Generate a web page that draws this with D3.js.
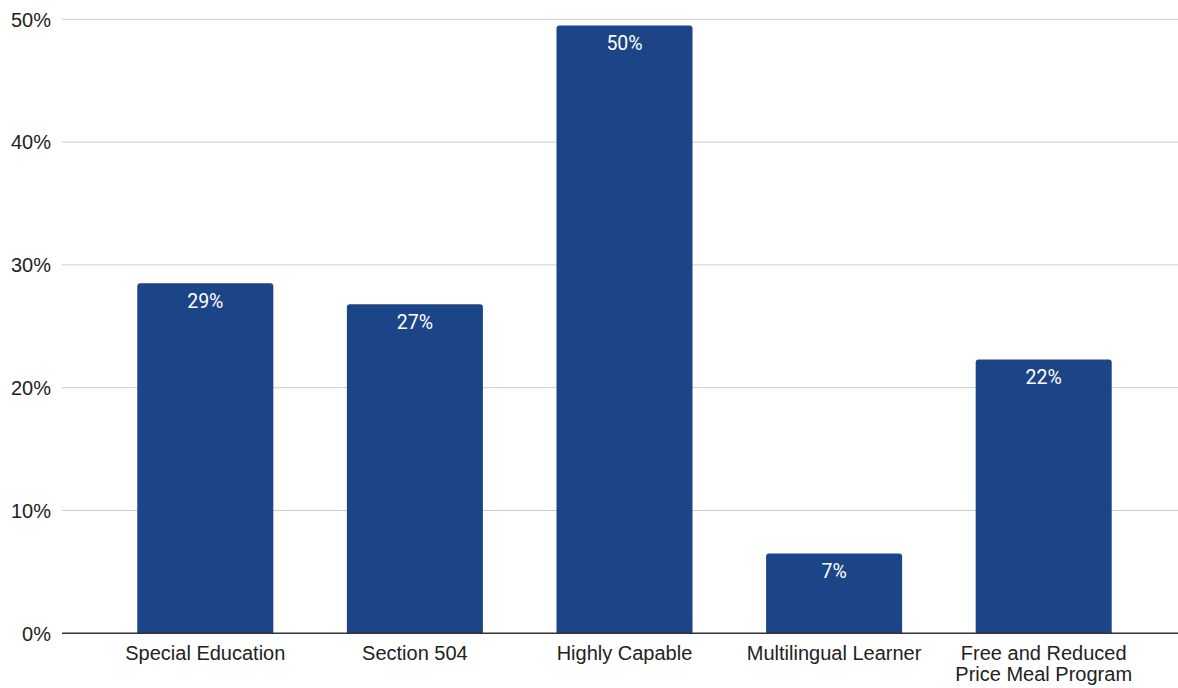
<!DOCTYPE html>
<html>
<head>
<meta charset="utf-8">
<script src="https://cdn.jsdelivr.net/npm/d3@7"></script>
<style>
  html, body { margin: 0; padding: 0; background: #fff; }
  svg { display: block; }
</style>
</head>
<body>
<svg id="chart" width="1178" height="688"></svg>
<script>
// Data
const categories = [
  ["Special Education"],
  ["Section 504"],
  ["Highly Capable"],
  ["Multilingual Learner"],
  ["Free and Reduced", "Price Meal Program"]
];
const values = [28.5, 26.8, 49.5, 6.5, 22.3];
const valueLabels = ["29%", "27%", "50%", "7%", "22%"];
const yTicks = [0, 10, 20, 30, 40, 50];

const svg = d3.select("#chart");
const plotLeft = 62, plotRight = 1178, plotTop = 19.3, plotBottom = 633.3;

const x = d3.scaleBand()
  .domain(d3.range(categories.length))
  .range([100.5, 1148.5])
  .paddingInner(0.351)
  .paddingOuter(0.1755);

const y = d3.scaleLinear().domain([0, 50]).range([plotBottom, plotTop]);

// gridlines
svg.append("g").selectAll("line")
  .data(yTicks.filter(d => d > 0))
  .join("line")
  .attr("x1", plotLeft).attr("x2", plotRight)
  .attr("y1", d => y(d)).attr("y2", d => y(d))
  .attr("stroke", "#cccccc").attr("stroke-width", 1);

// y tick labels
svg.append("g").selectAll("text")
  .data(yTicks)
  .join("text")
  .attr("x", 51)
  .attr("y", d => y(d))
  .attr("dy", "0.36em")
  .attr("text-anchor", "end")
  .attr("font-family", "Liberation Sans, Arial, sans-serif")
  .attr("font-size", 20)
  .attr("fill", "#222")
  .text(d => d + "%");

// bars with rounded top corners
const r = 3;
function barPath(i) {
  const x0 = x(i), w = x.bandwidth(), y0 = y(values[i]), yb = y(0);
  return `M${x0},${yb} V${y0 + r} Q${x0},${y0} ${x0 + r},${y0} H${x0 + w - r} Q${x0 + w},${y0} ${x0 + w},${y0 + r} V${yb} Z`;
}
svg.append("g").selectAll("path")
  .data(values.map((v, i) => i))
  .join("path")
  .attr("d", i => barPath(i))
  .attr("fill", "#1c4587");

// value labels
svg.append("g").selectAll("text")
  .data(values.map((v, i) => i))
  .join("text")
  .attr("x", i => x(i) + x.bandwidth() / 2)
  .attr("y", i => y(values[i]) + 24.5)
  .attr("text-anchor", "middle")
  .attr("font-family", "Roboto, Liberation Sans, sans-serif")
  .attr("font-size", 19.5)
  .attr("fill", "#ffffff")
  .text(i => valueLabels[i]);

// x axis line
svg.append("line")
  .attr("x1", plotLeft).attr("x2", plotRight)
  .attr("y1", plotBottom).attr("y2", plotBottom)
  .attr("stroke", "#333").attr("stroke-width", 1.5);

// category labels
const cat = svg.append("g").selectAll("text")
  .data(categories.map((c, i) => i))
  .join("text")
  .attr("x", i => x(i) + x.bandwidth() / 2)
  .attr("y", 660)
  .attr("text-anchor", "middle")
  .attr("font-family", "Liberation Sans, Arial, sans-serif")
  .attr("font-size", 20)
  .attr("fill", "#222");
cat.each(function(i) {
  const t = d3.select(this);
  categories[i].forEach((line, k) => {
    t.append("tspan")
      .attr("x", x(i) + x.bandwidth() / 2)
      .attr("dy", k === 0 ? 0 : 20.5)
      .text(line);
  });
});
</script>
</body>
</html>
